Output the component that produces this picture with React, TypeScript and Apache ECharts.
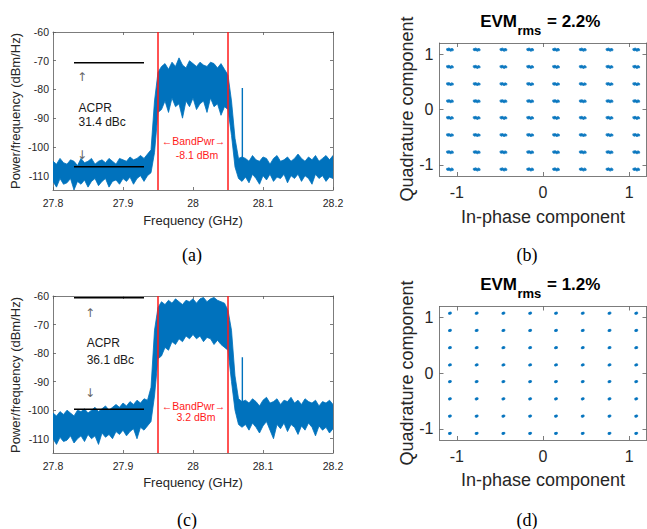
import React, { useEffect, useRef } from "react";
import * as echarts from "echarts";

// ---------- data ----------
const FREQ_START = 27.8;
const FREQ_STEP = 0.005; // GHz per envelope bin
const FREQ_MIN = 27.8;
const FREQ_MAX = 28.2;
const PSD_MIN = -115;
const PSD_MAX = -60;
const FREQ_TICKS = [27.8, 27.9, 28, 28.1, 28.2];
const PSD_TICKS = [-110, -100, -90, -80, -70, -60];
const IQ_MIN = -1.2;
const IQ_MAX = 1.2;
const IQ_TICKS = [-1, 0, 1];

// spectrum (a): upper / lower envelope per 5 MHz bin
const HI_A = [
  -105, -106, -104, -105.5, -106, -104.5, -105, -106.5, -104, -105.5,
  -105, -104, -106, -105, -104.5, -105.5, -104, -105, -106, -104,
  -104.5, -105, -103.5, -104.5, -104, -103, -104, -102.5, -101, -84,
  -74, -72, -71, -73, -70.5, -72, -69, -71.5, -72.5, -70,
  -71, -72, -70.5, -71.5, -72, -70.5, -71, -72.5, -71, -73,
  -75, -84, -97, -104, -103.5, -104, -105, -103, -104.5, -105,
  -103.5, -104, -106, -104, -103, -105, -104.5, -103.5, -105, -104,
  -102.5, -104, -105, -103.5, -104.5, -103, -105, -104, -103, -104.5,
  -103,
];
const LO_A = [
  -112, -114, -111, -113, -112.5, -111, -115, -112, -113, -111.5,
  -114, -112, -111, -113.5, -112, -111, -114, -112, -111.5, -113,
  -111, -112, -110.5, -113, -111, -110, -112, -110, -109, -102,
  -88, -87, -84, -88, -83, -86, -85, -90, -84, -86,
  -83, -87, -85, -84, -88, -83, -86, -85, -89, -86,
  -87, -96, -107, -111, -112, -110.5, -112.5, -109.5, -111, -113,
  -110, -111.5, -109.5, -112, -110.5, -111, -109.5, -112.5, -110, -111,
  -109.5, -112, -110, -111, -113, -109.5, -111, -110, -112, -110.5,
  -111,
];
// narrow spur just above the band: [frequency, base, top]
const SPUR_A = [28.0705, -105, -79.5];

// spectrum (c)
const HI_C = [
  -101, -102, -100.5, -101.5, -100, -101, -102, -100, -100.5, -99.5,
  -101, -100, -99, -100.5, -99.5, -98.5, -100, -99, -98, -99,
  -97.5, -98.5, -97, -98, -96.5, -97.5, -96, -96.5, -92, -72,
  -64, -62, -63, -61.5, -62.5, -61, -62, -63, -61.5, -62,
  -61, -62.5, -61, -60.5, -62, -61, -60.5, -61.5, -62, -62.5,
  -65, -72, -88, -96, -97, -96.5, -97.5, -96, -97, -98.5,
  -96.5, -95.5, -97.5, -97, -96, -98, -96.5, -97, -95.5, -97.5,
  -96.5, -98, -96, -97, -97.5, -96.5, -98.5, -97, -97.5, -96.5,
  -98,
];
const LO_C = [
  -110, -112, -109.5, -111, -110.5, -109, -111.5, -110, -109, -111,
  -108.5, -110, -109, -112, -108, -109.5, -108.5, -110, -107.5, -108.5,
  -107, -109, -107.5, -106.5, -110, -106, -107, -105.5, -104, -95,
  -82, -81, -78, -79, -76, -77, -75, -76, -74, -75,
  -73.5, -75, -74, -76, -74.5, -75, -77, -75.5, -77, -78,
  -79, -90, -100, -105, -106, -105, -107, -104.5, -106, -108,
  -105.5, -104, -107, -110, -105, -106.5, -104.5, -107.5, -105, -106,
  -108.5, -105.5, -107, -104.5, -106, -109, -105.5, -107, -106, -108,
  -106.5,
];
const SPUR_C = [28.0705, -98, -81.5];

const BAND_EDGES = [27.95, 28.05];
const ACPR_SPAN = [27.83, 27.93];
const ACPR_LEVELS_A = [-70.7, -106.9];
const ACPR_LEVELS_C = [-60.6, -99.7];

// 64-QAM constellation levels (I and Q)
const QAM_LEVELS = [-1.08, -0.77, -0.46, -0.15, 0.15, 0.46, 0.77, 1.08];
// cluster spread read for (b) (EVM 2.2 %)
const CLUSTER_B = [
  [0, 0], [0.022, 0.008], [-0.02, -0.006], [0.01, -0.014],
  [-0.012, 0.013], [0.032, -0.004], [-0.03, 0.006],
];
// (d) (EVM 1.2 %) tight clusters
const CLUSTER_D = [[0, 0], [0.008, 0.004], [-0.006, -0.004]];

// ---------- styles ----------
const BLUE = "#0072BD";
const RED = "#ff1a1a";
const AX = "#5a5a5a";
const TXT = "#262626";
const FONT = "'Liberation Sans', Arial, Helvetica, sans-serif";
const SERIF = "'Liberation Serif', 'Times New Roman', serif";

function bandSeries(xi: number, hi: number[], lo: number[]) {
  return {
    type: "custom",
    xAxisIndex: xi,
    yAxisIndex: xi,
    data: [[28, -80]],
    silent: true,
    clip: true,
    z: 2,
    renderItem: (_p: any, api: any) => {
      const up = hi.map((v, i) => api.coord([FREQ_START + i * FREQ_STEP, v]));
      const dn = lo.map((v, i) => api.coord([FREQ_START + i * FREQ_STEP, v])).reverse();
      return {
        type: "polygon",
        shape: { points: up.concat(dn) },
        style: { fill: BLUE, stroke: BLUE, lineWidth: 0.8, lineJoin: "miter" },
      };
    },
  };
}

function constellation(cluster: number[][]) {
  const pts: number[][] = [];
  for (const q of QAM_LEVELS) for (const i of QAM_LEVELS) for (const o of cluster) pts.push([i + o[0], q + o[1]]);
  return pts;
}

function axisPair(kind: "x" | "y", grid: number, min: number, max: number, ticks: number[], fontSize: number, margin: number, tickLen: number) {
  const line = { show: true, onZero: false, lineStyle: { color: AX, width: 0.8 } };
  const tick = { show: true, inside: true, length: tickLen, customValues: ticks, lineStyle: { color: AX, width: 0.8 } };
  const main = {
    type: "value",
    gridIndex: grid,
    min,
    max,
    position: kind === "x" ? "bottom" : "left",
    axisLine: line,
    axisTick: tick,
    axisLabel: { customValues: ticks, fontSize, color: TXT, margin, fontFamily: FONT },
    splitLine: { show: false },
  };
  const mirror = {
    type: "value",
    gridIndex: grid,
    min,
    max,
    position: kind === "x" ? "top" : "right",
    axisLine: line,
    axisTick: tick,
    axisLabel: { show: false },
    splitLine: { show: false },
  };
  return [main, mirror];
}

function txt(x: number, y: number, text: string, o: any = {}) {
  return {
    type: "text",
    x,
    y,
    rotation: o.rotation || 0,
    silent: true,
    style: {
      text,
      fill: o.fill || TXT,
      fontSize: o.fontSize || 12,
      fontFamily: o.fontFamily || FONT,
      fontWeight: o.fontWeight || "normal",
      align: o.align || "center",
      verticalAlign: o.verticalAlign || "middle",
    },
  };
}

function lineSeries(xi: number, data: number[][], color: string, width: number, z: number) {
  return {
    type: "line",
    xAxisIndex: xi,
    yAxisIndex: xi,
    data,
    symbol: "none",
    showSymbol: false,
    clip: true,
    silent: true,
    z,
    lineStyle: { color, width },
  };
}

export default function App() {
  const ref = useRef<HTMLDivElement>(null);
  useEffect(() => {
    if (!ref.current) return;
    const chart = echarts.init(ref.current, undefined, { renderer: "svg" });

    const grids = [
      { left: 53, top: 32, width: 280, height: 158 },
      { left: 439.5, top: 43, width: 207, height: 133 },
      { left: 53, top: 296, width: 280, height: 157 },
      { left: 439.5, top: 306.5, width: 207, height: 133.5 },
    ];

    const xAxis = [
      ...axisPair("x", 0, FREQ_MIN, FREQ_MAX, FREQ_TICKS, 10.5, 7, 3),
      ...axisPair("x", 1, IQ_MIN, IQ_MAX, IQ_TICKS, 16, 8, 4),
      ...axisPair("x", 2, FREQ_MIN, FREQ_MAX, FREQ_TICKS, 10.5, 7, 3),
      ...axisPair("x", 3, IQ_MIN, IQ_MAX, IQ_TICKS, 16, 8, 4),
    ];
    const yAxis = [
      ...axisPair("y", 0, PSD_MIN, PSD_MAX, PSD_TICKS, 10.5, 4, 3),
      ...axisPair("y", 1, IQ_MIN, IQ_MAX, IQ_TICKS, 16, 6, 4),
      ...axisPair("y", 2, PSD_MIN, PSD_MAX, PSD_TICKS, 10.5, 4, 3),
      ...axisPair("y", 3, IQ_MIN, IQ_MAX, IQ_TICKS, 16, 6, 4),
    ];

    const series: any[] = [];
    // (a)
    series.push(bandSeries(0, HI_A, LO_A));
    series.push(lineSeries(0, [[SPUR_A[0], SPUR_A[1]], [SPUR_A[0], SPUR_A[2]]], BLUE, 1.4, 2));
    BAND_EDGES.forEach((e) => series.push(lineSeries(0, [[e, PSD_MIN], [e, PSD_MAX]], RED, 1.5, 3)));
    ACPR_LEVELS_A.forEach((l) => series.push(lineSeries(0, [[ACPR_SPAN[0], l], [ACPR_SPAN[1], l]], "#000", 1.5, 4)));
    // (c)
    series.push(bandSeries(4, HI_C, LO_C));
    series.push(lineSeries(4, [[SPUR_C[0], SPUR_C[1]], [SPUR_C[0], SPUR_C[2]]], BLUE, 1.4, 2));
    BAND_EDGES.forEach((e) => series.push(lineSeries(4, [[e, PSD_MIN], [e, PSD_MAX]], RED, 1.5, 3)));
    ACPR_LEVELS_C.forEach((l) => series.push(lineSeries(4, [[ACPR_SPAN[0], l], [ACPR_SPAN[1], l]], "#000", 1.5, 4)));
    // (b)
    series.push({
      type: "scatter", xAxisIndex: 2, yAxisIndex: 2, data: constellation(CLUSTER_B),
      symbol: "circle", symbolSize: 2.6, silent: true, itemStyle: { color: BLUE },
    });
    // (d)
    series.push({
      type: "scatter", xAxisIndex: 6, yAxisIndex: 6, data: constellation(CLUSTER_D),
      symbol: "circle", symbolSize: 2.8, silent: true, itemStyle: { color: BLUE },
    });

    const ARROW = "'DejaVu Sans', sans-serif";
    const graphic: any[] = [
      // axis names (a)
      txt(193, 220, "Frequency (GHz)", { fontSize: 13 }),
      txt(15, 111, "Power/frequency (dBm/Hz)", { fontSize: 13, rotation: Math.PI / 2 }),
      // axis names (c)
      txt(193, 482, "Frequency (GHz)", { fontSize: 13 }),
      txt(15, 375, "Power/frequency (dBm/Hz)", { fontSize: 13, rotation: Math.PI / 2 }),
      // axis names (b)
      txt(543, 217, "In-phase component", { fontSize: 18 }),
      txt(406.5, 109, "Quadrature component", { fontSize: 18, rotation: Math.PI / 2 }),
      // axis names (d)
      txt(543, 480, "In-phase component", { fontSize: 18 }),
      txt(406.5, 373, "Quadrature component", { fontSize: 18, rotation: Math.PI / 2 }),
      // titles (b)
      txt(517, 21, "EVM", { fontSize: 17, fontWeight: "bold", align: "right", fill: "#000" }),
      txt(517.5, 30, "rms", { fontSize: 13, fontWeight: "bold", align: "left", fill: "#000" }),
      txt(547, 21, "= 2.2%", { fontSize: 17, fontWeight: "bold", align: "left", fill: "#000" }),
      // titles (d)
      txt(517, 284, "EVM", { fontSize: 17, fontWeight: "bold", align: "right", fill: "#000" }),
      txt(517.5, 293, "rms", { fontSize: 13, fontWeight: "bold", align: "left", fill: "#000" }),
      txt(547, 284, "= 1.2%", { fontSize: 17, fontWeight: "bold", align: "left", fill: "#000" }),
      // annotations (a)
      txt(82, 76.5, "↑", { fontSize: 12, fill: "#666", fontFamily: ARROW }),
      txt(82, 155, "↓", { fontSize: 12, fill: "#666", fontFamily: ARROW }),
      txt(78.5, 108, "ACPR", { fontSize: 12, align: "left", fill: "#1a1a1a" }),
      txt(78.5, 122, "31.4 dBc", { fontSize: 12, align: "left", fill: "#1a1a1a" }),
      txt(193.5, 140.7, "←BandPwr→", { fontSize: 10.5, fill: RED }),
      txt(197, 155, "-8.1 dBm", { fontSize: 10.5, fill: RED }),
      // annotations (c)
      txt(90, 313, "↑", { fontSize: 12, fill: "#666", fontFamily: ARROW }),
      txt(90, 392.5, "↓", { fontSize: 12, fill: "#666", fontFamily: ARROW }),
      txt(86.7, 343, "ACPR", { fontSize: 12, align: "left", fill: "#1a1a1a" }),
      txt(86.7, 360, "36.1 dBc", { fontSize: 12, align: "left", fill: "#1a1a1a" }),
      txt(193.5, 405.7, "←BandPwr→", { fontSize: 10.5, fill: RED }),
      txt(196, 416.7, "3.2 dBm", { fontSize: 10.5, fill: RED }),
      // panel labels
      txt(192, 255, "(a)", { fontSize: 18, fontFamily: SERIF, fill: "#000" }),
      txt(527, 255, "(b)", { fontSize: 18, fontFamily: SERIF, fill: "#000" }),
      txt(187, 520, "(c)", { fontSize: 18, fontFamily: SERIF, fill: "#000" }),
      txt(527, 520, "(d)", { fontSize: 18, fontFamily: SERIF, fill: "#000" }),
    ];

    chart.setOption({
      animation: false,
      backgroundColor: "#ffffff",
      grid: grids,
      xAxis,
      yAxis,
      series,
      graphic,
    });
    return () => chart.dispose();
  }, []);
  return (
    <div
      ref={ref}
      style={{ position: "fixed", left: 0, top: 0, width: 647, height: 529, background: "#fff" }}
    />
  );
}
